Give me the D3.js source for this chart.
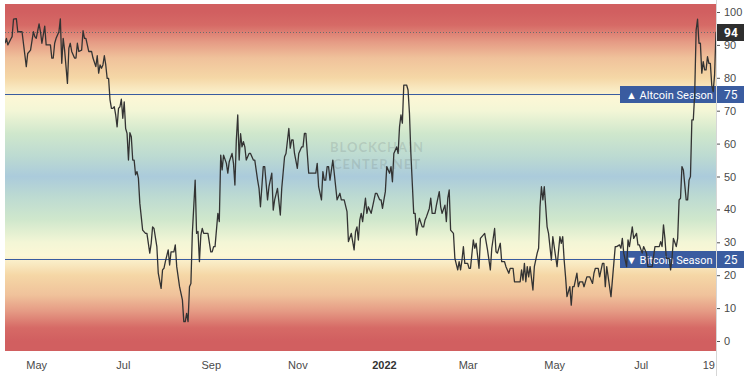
<!DOCTYPE html>
<html>
<head>
<meta charset="utf-8">
<title>Altcoin Season Index</title>
<script src="https://cdn.jsdelivr.net/npm/d3@7"></script>
<style>
  body { margin: 0; background: #fff; }
  svg { display: block; font-family: Roboto, "Noto Sans", sans-serif; }
  .axis text { fill: #4a4a4a; font-size: 11px; }
  .season-label { fill: #fff; font-size: 11px; }
  .watermark { fill: #6f7b7b; fill-opacity: 0.22; font-family: Lato, sans-serif; font-weight: 700; font-size: 13px; letter-spacing: 1px; }
</style>
</head>
<body>
<svg id="chart"></svg>
<script>
// --- data (one line per month) ---
const dates = [
  '2021-04-09','2021-04-10','2021-04-11','2021-04-13','2021-04-14','2021-04-15','2021-04-17','2021-04-18','2021-04-21','2021-04-24','2021-04-25','2021-04-27','2021-04-29','2021-04-30',
  '2021-05-01','2021-05-03','2021-05-04','2021-05-05','2021-05-07','2021-05-08','2021-05-09','2021-05-11','2021-05-12','2021-05-13','2021-05-14','2021-05-15','2021-05-17','2021-05-18','2021-05-19','2021-05-20','2021-05-21','2021-05-23','2021-05-24','2021-05-25','2021-05-26','2021-05-28','2021-05-29','2021-05-30','2021-05-31',
  '2021-06-02','2021-06-03','2021-06-04','2021-06-05','2021-06-07','2021-06-09','2021-06-10','2021-06-12','2021-06-13','2021-06-14','2021-06-15','2021-06-16','2021-06-17','2021-06-18','2021-06-19','2021-06-20','2021-06-21','2021-06-22','2021-06-23','2021-06-24','2021-06-25','2021-06-26','2021-06-27','2021-06-28','2021-06-29','2021-06-30',
  '2021-07-01','2021-07-02','2021-07-03','2021-07-04','2021-07-05','2021-07-06','2021-07-07','2021-07-08','2021-07-09','2021-07-10','2021-07-11','2021-07-12','2021-07-13','2021-07-15','2021-07-17','2021-07-18','2021-07-20','2021-07-21','2021-07-22','2021-07-23','2021-07-25','2021-07-26','2021-07-28','2021-07-29','2021-07-30','2021-07-31',
  '2021-08-02','2021-08-03','2021-08-04','2021-08-06','2021-08-07','2021-08-08','2021-08-10','2021-08-12','2021-08-13','2021-08-14','2021-08-15','2021-08-16','2021-08-17','2021-08-18','2021-08-19','2021-08-21','2021-08-22','2021-08-23','2021-08-24','2021-08-25','2021-08-26','2021-08-27','2021-08-29','2021-08-30',
  '2021-09-01','2021-09-02','2021-09-03','2021-09-04','2021-09-06','2021-09-07','2021-09-08','2021-09-09','2021-09-10','2021-09-12','2021-09-13','2021-09-14','2021-09-16','2021-09-17','2021-09-18','2021-09-19','2021-09-20','2021-09-21','2021-09-22','2021-09-23','2021-09-24','2021-09-25','2021-09-26','2021-09-28','2021-09-29',
  '2021-10-01','2021-10-02','2021-10-04','2021-10-05','2021-10-06','2021-10-08','2021-10-09','2021-10-11','2021-10-12','2021-10-14','2021-10-15','2021-10-16','2021-10-18','2021-10-20','2021-10-21','2021-10-23','2021-10-24','2021-10-26','2021-10-27','2021-10-28','2021-10-29','2021-10-30',
  '2021-11-01','2021-11-02','2021-11-04','2021-11-05','2021-11-06','2021-11-07','2021-11-09','2021-11-12','2021-11-14','2021-11-15','2021-11-16','2021-11-18','2021-11-19','2021-11-20','2021-11-21','2021-11-22','2021-11-23','2021-11-24','2021-11-26','2021-11-27','2021-11-29',
  '2021-12-01','2021-12-02','2021-12-04','2021-12-06','2021-12-07','2021-12-09','2021-12-11','2021-12-12','2021-12-13','2021-12-14','2021-12-15','2021-12-16','2021-12-17','2021-12-19','2021-12-20','2021-12-21','2021-12-23','2021-12-24','2021-12-26','2021-12-27','2021-12-29','2021-12-30','2021-12-31',
  '2022-01-01','2022-01-02','2022-01-03','2022-01-05','2022-01-06','2022-01-07','2022-01-08','2022-01-10','2022-01-11','2022-01-12','2022-01-13','2022-01-14','2022-01-15','2022-01-17','2022-01-18','2022-01-19','2022-01-20','2022-01-21','2022-01-22','2022-01-23','2022-01-24','2022-01-25','2022-01-26','2022-01-28','2022-01-29','2022-01-30','2022-01-31',
  '2022-02-02','2022-02-03','2022-02-04','2022-02-06','2022-02-07','2022-02-09','2022-02-10','2022-02-11','2022-02-13','2022-02-14','2022-02-15','2022-02-16','2022-02-17','2022-02-19','2022-02-20','2022-02-22','2022-02-23','2022-02-24','2022-02-25','2022-02-26','2022-02-27',
  '2022-03-01','2022-03-02','2022-03-03','2022-03-05','2022-03-06','2022-03-07','2022-03-09','2022-03-10','2022-03-13','2022-03-15','2022-03-17','2022-03-18','2022-03-20','2022-03-21','2022-03-22','2022-03-24','2022-03-25','2022-03-27','2022-03-28','2022-03-30','2022-03-31',
  '2022-04-02','2022-04-03','2022-04-05','2022-04-07','2022-04-08','2022-04-09','2022-04-10','2022-04-11','2022-04-12','2022-04-13','2022-04-14','2022-04-16','2022-04-17','2022-04-19','2022-04-20','2022-04-21','2022-04-22','2022-04-23','2022-04-24','2022-04-25','2022-04-26','2022-04-27','2022-04-29','2022-04-30',
  '2022-05-02','2022-05-03','2022-05-05','2022-05-06','2022-05-07','2022-05-08','2022-05-09','2022-05-10','2022-05-12','2022-05-13','2022-05-14','2022-05-15','2022-05-17','2022-05-18','2022-05-19','2022-05-21','2022-05-22','2022-05-24','2022-05-26','2022-05-28','2022-05-29','2022-05-30',
  '2022-06-01','2022-06-02','2022-06-04','2022-06-05','2022-06-06','2022-06-07','2022-06-09','2022-06-10','2022-06-11','2022-06-13','2022-06-14','2022-06-16','2022-06-17','2022-06-18','2022-06-19','2022-06-21','2022-06-22','2022-06-23','2022-06-25','2022-06-26','2022-06-28','2022-06-29','2022-06-30',
  '2022-07-02','2022-07-03','2022-07-05','2022-07-06','2022-07-08','2022-07-09','2022-07-11','2022-07-12','2022-07-14','2022-07-15','2022-07-16','2022-07-17','2022-07-18','2022-07-19','2022-07-21','2022-07-22','2022-07-23','2022-07-24','2022-07-26','2022-07-27','2022-07-28','2022-07-29','2022-07-30','2022-07-31',
  '2022-08-02','2022-08-03','2022-08-04','2022-08-05','2022-08-06','2022-08-07','2022-08-08','2022-08-09','2022-08-10','2022-08-11','2022-08-12','2022-08-13','2022-08-14','2022-08-15','2022-08-16','2022-08-17','2022-08-18','2022-08-19','2022-08-20','2022-08-21','2022-08-22','2022-08-23'
];

const values = [
  90.5,92,90,91.7,92.5,97.8,98,94,94,83.4,87.4,88.4,94,92.5,
  92,96.4,94,90.5,95.7,90,90,90,86,86,90.5,92,94,97.9,84.4,92,88.4,78.3,89,90.5,88,86,86,90.5,88,
  88.4,94.3,92,92,88,88,86,83.4,86.7,81.4,83.9,82.9,83.9,86.7,83.9,79.8,79.8,73.3,70.7,70.7,71.2,68.7,65.1,70.7,71.2,73.5,
  67.7,72.7,64.6,63.1,55,63.3,62.1,55,55,50.5,51.5,49.5,41.9,33.7,32.7,32.7,26.7,29.7,34.7,34.2,28.7,20.6,16,21.6,22.1,24.1,
  27.7,23.1,27.1,27.1,29.2,22.6,16.5,12.5,5.9,5.9,8.4,5.9,16.5,17.5,32.7,48.9,32.7,33.3,24.1,32.2,34.2,32.7,32.7,32.7,
  27.1,27.1,28.7,28.7,38.8,36.3,56.5,52,56.5,54,51,54.5,57,54,47.4,61.1,68.7,55,63,59,60.6,59,55,57,57,
  55,55,48.9,46.4,40.8,53,53,42.9,46.9,51,39.8,42.9,46.4,38.3,46.4,56,57,64.6,58.6,61.1,61.1,57,
  52.5,57,59,59,63.1,63.1,51,51,51,54,46.9,42.9,51.5,48.9,48.9,53,53,48.9,55,51,42.9,
  44.9,42.9,42.9,39.3,30.2,32.7,27.7,33.2,34.7,30.7,36.8,38.8,36.3,43.4,38.8,40.8,38.8,40.8,44.9,44.9,42.9,42.9,40.3,
  42.9,45.4,53,51,53,48.4,57,59,57,65.1,68.7,66.2,77.8,77.8,76.3,69.2,57,47.9,38.8,38.8,32.2,35.3,37.3,34.7,34.7,36.8,37.8,
  40.3,43.4,38.8,38.8,41.3,45.4,40.8,38.8,41.3,36.3,43.4,45.9,33.7,32.7,25.1,21.6,24.1,21.6,24.6,28.7,23.6,
  23.6,22.1,22.1,30.7,28.2,29.7,22.1,31.2,32.7,27.7,21.6,28.2,34.2,27.1,26.7,29.7,24.1,24.1,22.6,20.6,22.1,
  22.1,18,18,18,21.6,18.5,23.6,18,22.6,19.5,22.6,15.5,22.6,26.7,28.2,40.8,46.9,42.9,46.9,40.8,34.7,32.7,24.6,31.7,
  25.6,22.6,31.7,29.7,31.7,24.6,19.5,13.5,16.5,10.9,16.5,16.5,20.6,16.5,18,18,16.5,19.5,19.5,17.5,20.6,22.1,
  22.1,19.5,23.6,23.6,16.5,22.6,16.5,13.5,18.5,28.7,28.7,29.2,28.2,31.2,26.7,22.6,30.7,28.7,34.7,31.2,32.7,29.2,29.2,
  26.7,28.7,26.7,22.6,22.6,22.6,28.7,28.7,28.7,30.2,28.7,35.3,31.2,25.1,25.1,21.6,25.1,31.2,28.7,31.2,42.9,43.4,53,52,
  42.9,42.9,48.9,50,67.2,67.2,75.3,94.5,97.8,90.5,90.5,81.4,84.9,82.4,82.4,86.4,84.4,84.4,77.8,75.8,80.9,94
];

// x tick positions and their labels
const timeTicks = ['2021-05-01','2021-07-01','2021-09-01','2021-11-01','2022-01-01','2022-03-01','2022-05-01','2022-07-01','2022-08-19'];
const timeLabels = ['May','Jul','Sep','Nov','2022','Mar','May','Jul','19'];

// right axis ticks
const valueTicks = [0,10,20,30,40,50,60,70,80,90,100];

// season thresholds
const seasonLevels = [75, 25];
const seasonNames = ['\u25B2 Altcoin Season', '\u25BC Bitcoin Season'];

// index value shown in the dark price tag
const lastValue = 94;

// watermark lines
const watermarkLines = ['BLOCKCHAIN', 'CENTER.NET'];

// background band colours, by index value
const bandLevels = [100, 96, 91, 86, 80, 74, 70, 63, 56, 50, 44, 37, 30, 26, 20, 14, 9, 4, 0];
const bandColors = ['#d15f60','#d66a66','#e59a84','#f0c29b','#f5d7a6','#fcf7d6','#f3f6d6','#cfe7cc','#bcdad2','#abcbdb',
                    '#bcdad2','#cfe7cc','#f3f6d6','#fcf7d6','#f5d7a6','#f0c29b','#e59a84','#d66a66','#d15f60'];


class SeasonChart {

  constructor(_config, _data) {
    this.config = {
      parentElement: _config.parentElement,
      containerWidth: _config.containerWidth || 750,
      containerHeight: _config.containerHeight || 376,
      plot: _config.plot || { left: 5, right: 716, top: 4, bottom: 351 },
      lineColor: '#333',
      seasonColor: '#3a5ca0'
    };
    this.data = _data;
    this.initVis();
  }

  initVis() {
    let vis = this;
    const p = vis.config.plot;

    vis.svg = d3.select(vis.config.parentElement)
        .attr('width', vis.config.containerWidth)
        .attr('height', vis.config.containerHeight);

    vis.xScale = d3.scaleTime()
        .domain(d3.extent(vis.data, d => d.date))
        .range([p.left, p.right]);

    // 0..100 sits a little inside the pane, like the original
    vis.yScale = d3.scaleLinear()
        .domain([0, 100])
        .range([341, 12]);

    const defs = vis.svg.append('defs');

    const grad = defs.append('linearGradient')
        .attr('id', 'band')
        .attr('gradientUnits', 'userSpaceOnUse')
        .attr('x1', 0).attr('x2', 0)
        .attr('y1', vis.yScale(100)).attr('y2', vis.yScale(0));

    grad.selectAll('stop')
        .data(bandLevels)
      .join('stop')
        .attr('offset', d => (100 - d) / 100)
        .attr('stop-color', (d, i) => bandColors[i]);

    defs.append('clipPath').attr('id', 'pane')
      .append('rect')
        .attr('x', p.left).attr('y', p.top)
        .attr('width', p.right - p.left).attr('height', p.bottom - p.top);

    vis.svg.append('rect')
        .attr('x', p.left).attr('y', p.top)
        .attr('width', p.right - p.left).attr('height', p.bottom - p.top)
        .attr('fill', 'url(#band)');

    // watermark, behind the line
    vis.svg.selectAll('.watermark')
        .data(watermarkLines)
      .join('text')
        .attr('class', 'watermark')
        .attr('text-anchor', 'middle')
        .attr('x', 377)
        .attr('y', (d, i) => 152 + i * 17)
        .text(d => d);

    vis.pane = vis.svg.append('g').attr('clip-path', 'url(#pane)');
    vis.overlay = vis.svg.append('g');

    vis.xAxisG = vis.svg.append('g')
        .attr('class', 'axis x-axis')
        .attr('transform', `translate(0,${p.bottom})`);

    vis.yAxisG = vis.svg.append('g')
        .attr('class', 'axis y-axis')
        .attr('transform', `translate(${p.right},0)`);

    vis.renderVis();
  }

  renderVis() {
    let vis = this;
    const p = vis.config.plot;
    const y = vis.yScale;

    // dotted last-value line
    vis.pane.append('line')
        .attr('x1', p.left).attr('x2', p.right)
        .attr('y1', Math.round(y(lastValue)) + 0.5).attr('y2', Math.round(y(lastValue)) + 0.5)
        .attr('stroke', '#6d6d6d')
        .attr('stroke-dasharray', '1,2');

    // season threshold lines
    vis.pane.selectAll('.season-line')
        .data(seasonLevels)
      .join('line')
        .attr('class', 'season-line')
        .attr('x1', p.left).attr('x2', p.right)
        .attr('y1', d => Math.round(y(d)) + 0.5).attr('y2', d => Math.round(y(d)) + 0.5)
        .attr('stroke', vis.config.seasonColor)
        .attr('stroke-width', 1.2);

    // season tags on the right edge of the pane
    const tags = vis.overlay.selectAll('.season-tag')
        .data(seasonLevels)
      .join('g')
        .attr('class', 'season-tag')
        .attr('transform', d => `translate(0,${Math.round(y(d))})`);

    tags.append('rect')
        .attr('x', 620).attr('y', -8)
        .attr('width', p.right - 620).attr('height', 17)
        .attr('fill', vis.config.seasonColor);

    tags.append('text')
        .attr('class', 'season-label')
        .attr('x', 626).attr('y', 4.5)
        .text((d, i) => seasonNames[i]);

    // the index line
    const line = d3.line()
        .x(d => vis.xScale(d.date))
        .y(d => y(d.value));

    vis.svg.append('path')
        .datum(vis.data)
        .attr('clip-path', 'url(#pane)')
        .attr('d', line)
        .attr('fill', 'none')
        .attr('stroke', vis.config.lineColor)
        .attr('stroke-width', 1.3)
        .attr('stroke-linejoin', 'round');

    // x axis
    const parse = d3.timeParse('%Y-%m-%d');
    vis.xAxisG
        .call(d3.axisBottom(vis.xScale)
          .tickValues(timeTicks.map(parse))
          .tickFormat((d, i) => timeLabels[i])
          .tickSize(0)
          .tickPadding(10))
        .call(g => g.select('.domain').remove())
        .call(g => g.selectAll('text')
          .attr('dx', (d, i) => i === timeTicks.length - 1 ? -2 : 0)
          .style('font-weight', d => d.getMonth() === 0 && d.getDate() === 1 ? 700 : 400)
          .style('fill', d => d.getMonth() === 0 && d.getDate() === 1 ? '#333' : '#4a4a4a'));

    // y axis on the right
    vis.yAxisG
        .call(d3.axisRight(y)
          .tickValues(valueTicks)
          .tickSize(4)
          .tickPadding(4))
        .call(g => g.select('.domain').remove())
        .call(g => g.selectAll('.tick line').attr('stroke', '#555'));

    vis.svg.append('line')
        .attr('x1', p.right + 0.5).attr('x2', p.right + 0.5)
        .attr('y1', 0).attr('y2', vis.config.containerHeight)
        .attr('stroke', '#d6d6d6');

    // value tags on the axis: 75 / 25 in blue, last value in dark grey
    const axisTags = seasonLevels.map(v => ({ v, fill: vis.config.seasonColor }))
        .concat([{ v: lastValue, fill: '#2e2e2e' }]);

    const at = vis.svg.selectAll('.axis-tag')
        .data(axisTags)
      .join('g')
        .attr('class', 'axis-tag')
        .attr('transform', d => `translate(${p.right + 1},${Math.round(y(d.v))})`);

    at.append('rect')
        .attr('x', 0).attr('y', -8)
        .attr('width', 27).attr('height', 17)
        .attr('fill', d => d.fill);

    at.append('text')
        .attr('x', 7).attr('y', 4.5)
        .attr('fill', '#fff')
        .style('font-size', '12px')
        .style('font-weight', d => d.v === lastValue ? 700 : 400)
        .text(d => d.v);
  }
}

const parseDate = d3.timeParse('%Y-%m-%d');
const series = dates.map((d, i) => ({ date: parseDate(d), value: values[i] }));

new SeasonChart({ parentElement: '#chart' }, series);
</script>
</body>
</html>
